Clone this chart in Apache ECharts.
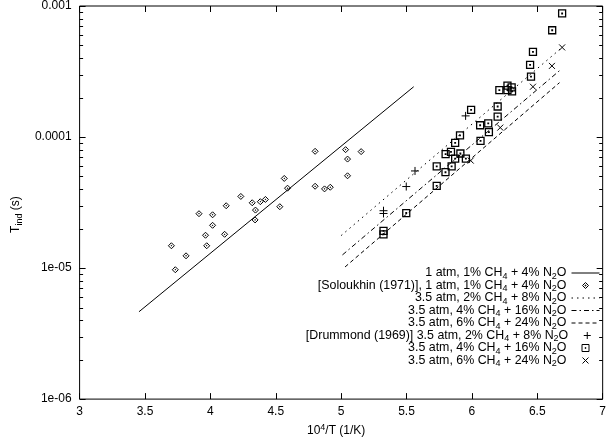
<!DOCTYPE html>
<html>
<head>
<meta charset="utf-8">
<script src="https://cdn.jsdelivr.net/npm/echarts@6/dist/echarts.min.js"></script>
<style>html,body{margin:0;padding:0;background:#fff}#c{width:609px;height:444px}</style>
</head>
<body>
<div id="c"></div>
<script>
// ---- data ----
const xTickLabels = ['3','3.5','4','4.5','5','5.5','6','6.5','7'];
const yTickValues = [1e-6, 1e-5, 1e-4, 1e-3];
const yTickLabels = ['1e-06', '1e-05', '0.0001', '0.001'];
const yMinorTicks = [2e-6,3e-6,4e-6,5e-6,6e-6,7e-6,8e-6,9e-6,
                     2e-5,3e-5,4e-5,5e-5,6e-5,7e-5,8e-5,9e-5,
                     2e-4,3e-4,4e-4,5e-4,6e-4,7e-4,8e-4,9e-4];

const legendLabels = [
  '1 atm, 1% CH4 + 4% N2O',
  '[Soloukhin (1971)], 1 atm, 1% CH4 + 4% N2O',
  '3.5 atm, 2% CH4 + 8% N2O',
  '3.5 atm, 4% CH4 + 16% N2O',
  '3.5 atm, 6% CH4 + 24% N2O',
  '[Drummond (1969)] 3.5 atm, 2% CH4 + 8% N2O',
  '3.5 atm, 4% CH4 + 16% N2O',
  '3.5 atm, 6% CH4 + 24% N2O'
];

const fit1atm = [[3.454, 4.64e-6], [5.555, 2.42e-4]];
const soloukhin = [
  [3.702,1.48e-5],[3.732,9.71e-6],[3.814,1.24e-5],[3.913,2.60e-5],[4.017,2.55e-5],
  [4.017,2.12e-5],[3.963,1.78e-5],[3.972,1.48e-5],[4.121,2.99e-5],[4.109,1.81e-5],
  [4.233,3.52e-5],[4.320,3.15e-5],[4.345,2.77e-5],[4.342,2.33e-5],[4.382,3.21e-5],
  [4.421,3.34e-5],[4.531,2.94e-5],[4.565,4.83e-5],[4.590,4.07e-5],[4.801,7.78e-5],
  [4.801,4.21e-5],[4.873,4.02e-5],[4.917,4.14e-5],[5.034,8.01e-5],[5.049,6.79e-5],
  [5.049,5.06e-5],[5.153,7.74e-5]
];
const fit2pct = [[5.00, 1.77e-5], [6.69, 4.83e-4]];
const fit4pct = [[5.01, 1.26e-5], [6.67, 3.21e-4]];
const fit6pct = [[5.03, 1.02e-5], [6.67, 2.60e-4]];
const drummond2 = [[5.952,1.45e-4],[5.565,5.51e-5],[5.498,4.19e-5],[5.324,2.74e-5],[5.324,2.61e-5]];
const drummond4 = [
  [6.690,8.77e-4],[6.614,6.53e-4],[6.467,4.47e-4],[6.445,3.55e-4],[6.452,2.89e-4],
  [6.210,2.28e-4],[6.272,2.47e-4],[6.272,2.28e-4],[6.304,2.39e-4],[6.307,2.23e-4],
  [5.994,1.61e-4],[6.197,1.71e-4],[6.197,1.43e-4],[6.063,1.23e-4],[6.125,1.27e-4],
  [6.130,1.09e-4],[5.909,1.03e-4],[5.872,9.03e-5],[6.066,9.34e-5],[5.840,7.71e-5],
  [5.912,7.49e-5],[5.799,7.40e-5],[5.872,6.84e-5],[5.954,6.84e-5],[5.731,5.97e-5],
  [5.845,5.97e-5],[5.798,5.39e-5],[5.731,4.24e-5],[5.498,2.63e-5],[5.324,1.92e-5],
  [5.324,1.81e-5]
];
const drummond6 = [[6.690,4.83e-4],[6.612,3.49e-4],[6.467,2.42e-4],[6.217,1.18e-4],[5.991,6.61e-5]];

// ---- chart ----
const FONT = 'Liberation Sans';
const names = legendLabels.map((l, i) => l + '#' + i);
const richify = s => s.replace(/CH4/g, 'CH{s|4}').replace(/N2O/g, 'N{s|2}O');
const rich = {
  s: { fontSize: 9, lineHeight: 8, verticalAlign: 'bottom', fontFamily: FONT, color: '#000' },
  p: { fontSize: 9, lineHeight: 8, verticalAlign: 'top', fontFamily: FONT, color: '#000' }
};

const SYM = {
  diamond: 'path://M5,0L10,5L5,10L0,5Z M4.6,4.6L5.4,4.6L5.4,5.4L4.6,5.4Z',
  square: 'path://M0,0L10,0L10,10L0,10Z M4.6,4.6L5.4,4.6L5.4,5.4L4.6,5.4Z',
  plus: 'path://M0,5L10,5M5,0L5,10',
  cross: 'path://M0,0L10,10M10,0L0,10'
};
// legend icons: 28x7 boxes with the marker centred
const LEG = {
  diamond: 'path://M0,0M28,7M14,0.5L17,3.5L14,6.5L11,3.5Z M13.6,3.1L14.4,3.1L14.4,3.9L13.6,3.9Z',
  square: 'path://M0,0M28,7M10.5,0L17.5,0L17.5,7L10.5,7Z M13.6,3.1L14.4,3.1L14.4,3.9L13.6,3.9Z',
  plus: 'path://M0,0M28,7M10,3.5L18,3.5M14,-0.5L14,7.5',
  cross: 'path://M0,0M28,7M11,0.5L17,6.5M17,0.5L11,6.5'
};
const legendIcons = [null, LEG.diamond, null, null, null, LEG.plus, LEG.square, LEG.cross];

function lineSeries(i, data, type) {
  return { name: names[i], type: 'line', data: data, symbol: 'none', silent: true,
    lineStyle: { color: '#000', width: 1, type: type }, itemStyle: { color: '#000' } };
}
function scatterSeries(i, data, sym, size, bw) {
  return { name: names[i], type: 'scatter', data: data, symbol: sym, symbolSize: size, silent: true,
    itemStyle: { color: 'rgba(0,0,0,0)', borderColor: '#000', borderWidth: bw, opacity: 1 } };
}

const series = [
  lineSeries(0, fit1atm, 'solid'),
  scatterSeries(1, soloukhin, SYM.diamond, 6, 1),
  lineSeries(2, fit2pct, [1.5, 4]),
  lineSeries(3, fit4pct, [5, 3, 1.5, 3]),
  lineSeries(4, fit6pct, [4, 3]),
  scatterSeries(5, drummond2, SYM.plus, 8, 1),
  scatterSeries(6, drummond4, SYM.square, 7, 1.3),
  scatterSeries(7, drummond6, SYM.cross, 6, 1),
  {
    type: 'custom', silent: true, data: yMinorTicks.map(v => [3, v]),
    encode: { x: 0, y: 1 },
    renderItem: function (params, api) {
      const v = api.value(1);
      const pl = api.coord([3, v]);
      const pr = api.coord([7, v]);
      const y = Math.round(pl[1]) + 0.5;
      return { type: 'group', children: [
        { type: 'line', shape: { x1: pl[0], y1: y, x2: pl[0] + 3.5, y2: y }, style: { stroke: '#000', lineWidth: 1 } },
        { type: 'line', shape: { x1: pr[0], y1: y, x2: pr[0] - 3.5, y2: y }, style: { stroke: '#000', lineWidth: 1 } }
      ] };
    }
  }
];

const legends = names.map((n, i) => {
  const lg = {
    data: [n], orient: 'vertical', align: 'right', right: 9, top: 265 + i * 12.5,
    padding: 0, itemWidth: 28, itemHeight: 7, selectedMode: false,
    formatter: name => richify(name.split('#')[0]),
    textStyle: { fontFamily: FONT, fontSize: 12.4, color: '#000', lineHeight: 16, rich: rich }
  };
  if (legendIcons[i]) {
    lg.icon = legendIcons[i];
    lg.itemStyle = { color: 'rgba(0,0,0,0)', borderColor: '#000', borderWidth: 1, opacity: 1 };
  } else {
    lg.itemStyle = { opacity: 0 };
    lg.lineStyle = { width: 1 };
  }
  return lg;
});

const axisCommonX = { type: 'value', min: 3, max: 7, interval: 0.5, splitLine: { show: false },
  axisLine: { show: false }, axisTick: { show: true, inside: true, length: 6, lineStyle: { color: '#000' } } };
const axisCommonY = { type: 'log', logBase: 10, min: 1e-6, max: 1e-3, splitNumber: 3, splitLine: { show: false },
  minorTick: { show: false }, axisLine: { show: false },
  axisTick: { show: true, inside: true, length: 6, lineStyle: { color: '#000' } } };

const option = {
  animation: false,
  backgroundColor: '#fff',
  grid: { left: 68, right: 3, top: 5, bottom: 34, show: true, borderColor: '#000', borderWidth: 1, backgroundColor: 'rgba(0,0,0,0)', containLabel: false },
  legend: legends,
  xAxis: [
    Object.assign({}, axisCommonX, { position: 'bottom',
      axisLabel: { show: true, margin: 7, fontFamily: FONT, fontSize: 12, color: '#000',
        formatter: v => { const k = Math.round((v - 3) / 0.5); return xTickLabels[k] !== undefined ? xTickLabels[k] : ''; } },
      name: '10{p|4}/T (1/K)', nameLocation: 'middle', nameGap: 21,
      nameTextStyle: { fontFamily: FONT, fontSize: 12, color: '#000', lineHeight: 16, padding: [0, 10, 0, 0], rich: rich } }),
    Object.assign({}, axisCommonX, { position: 'top', axisLabel: { show: false } })
  ],
  yAxis: [
    Object.assign({}, axisCommonY, { position: 'left',
      axisLabel: { show: true, margin: 8, fontFamily: FONT, fontSize: 12, color: '#000',
        formatter: v => { let best = 0; for (let i = 0; i < yTickValues.length; i++) { if (Math.abs(Math.log10(v) - Math.log10(yTickValues[i])) < Math.abs(Math.log10(v) - Math.log10(yTickValues[best]))) best = i; } return yTickLabels[best]; } },
      name: 'T{s|ind} (s)', nameLocation: 'middle', nameGap: 52,
      nameTextStyle: { fontFamily: FONT, fontSize: 12, color: '#000', lineHeight: 16, padding: [0, 24, 0, 0], rich: rich } }),
    Object.assign({}, axisCommonY, { position: 'right', axisLabel: { show: false } })
  ],
  series: series
};

const chart = echarts.init(document.getElementById('c'), null, { renderer: 'canvas' });
chart.setOption(option);
</script>
</body>
</html>
